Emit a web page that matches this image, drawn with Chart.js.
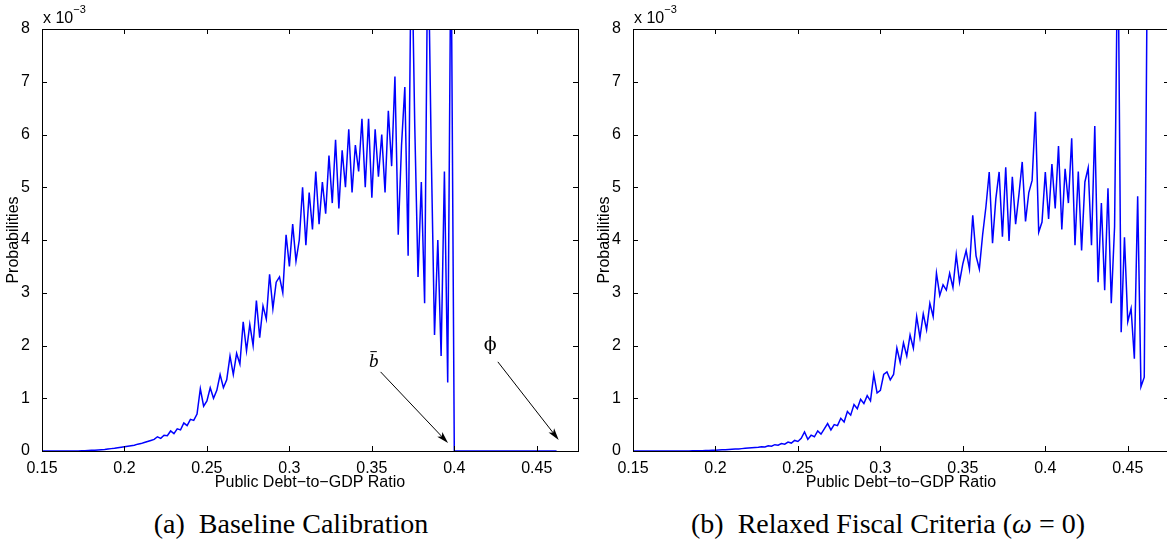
<!DOCTYPE html>
<html>
<head>
<meta charset="utf-8">
<title>Debt-to-GDP distributions</title>
<script src="https://cdn.jsdelivr.net/npm/chart.js@4.4.1/dist/chart.umd.min.js"></script>
<style>
  body { margin: 0; background: #fff; width: 1167px; height: 544px; overflow: hidden; position: relative; }
  .panel { position: absolute; top: 0; width: 590px; height: 500px; }
  .caption { position: absolute; top: 510px; width: 582px; text-align: center; color: #000;
             font: 28px "Liberation Serif", "Times New Roman", serif; line-height: 28px; white-space: nowrap; }
</style>
</head>
<body>
<div class="panel" style="left:0"><canvas id="baselineChart"></canvas></div>
<div class="panel" style="left:591px"><canvas id="relaxedChart"></canvas></div>
<div class="caption" style="left:0">(a)&nbsp; Baseline Calibration</div>
<div class="caption" style="left:597px">(b)&nbsp; Relaxed Fiscal Criteria (<i>ω</i> = 0)</div>
<script>
// debt-to-GDP grid: 0.150, 0.152, ... 0.462
const gridStart = 0.150;
const gridStep = 0.002;

const xTicks = [0.15, 0.2, 0.25, 0.3, 0.35, 0.4, 0.45];
const xTickLabels = ['0.15', '0.2', '0.25', '0.3', '0.35', '0.4', '0.45'];
const yTicks = [0, 1, 2, 3, 4, 5, 6, 7, 8];

// probabilities, in units of 10^-3 (values above 8 run off the top of the plot)
const baselineProb = [
  0, 0, 0, 0, 0, 0, 0, 0, 0, 0,                                   // 0.150
  0, 0.002, 0.004, 0.006, 0.009, 0.012, 0.016, 0.02, 0.025, 0.03,  // 0.170
  0.037, 0.045, 0.05, 0.06, 0.07, 0.08, 0.09, 0.1, 0.11, 0.13,     // 0.190
  0.14, 0.16, 0.18, 0.2, 0.22, 0.27, 0.24, 0.3, 0.29, 0.38,        // 0.210
  0.33, 0.42, 0.4, 0.53, 0.48, 0.6, 0.58, 0.7, 1.18, 0.85,         // 0.230
  0.95, 1.2, 1.0, 1.15, 1.45, 1.2, 1.35, 1.8, 1.45, 1.85,          // 0.250
  1.65, 2.45, 1.9, 2.4, 2.0, 2.85, 2.15, 2.75, 2.5, 3.35,          // 0.270
  2.7, 3.2, 3.3, 3.0, 4.1, 3.5, 4.3, 3.6, 4.0, 5.0,                // 0.290
  3.9, 4.9, 4.2, 5.3, 4.3, 5.1, 4.5, 5.6, 4.7, 5.9,                // 0.310
  4.6, 5.7, 5.0, 6.1, 4.9, 5.8, 5.3, 6.3, 5.0, 6.3,                // 0.330
  4.8, 6.1, 5.2, 6.0, 4.9, 6.45, 5.4, 7.1, 4.1, 5.8,               // 0.350
  6.9, 3.7, 10, 6.2, 3.3, 5.1, 2.8, 10, 5.7, 2.2,                  // 0.370
  4.0, 1.8, 5.3, 1.3, 10, 0, 0, 0, 0, 0,                           // 0.390
  0, 0, 0, 0, 0, 0, 0, 0, 0, 0,                                    // 0.410
  0, 0, 0, 0, 0, 0, 0, 0, 0, 0,                                    // 0.430
  0, 0, 0, 0, 0, 0, 0                                              // 0.450
];

const relaxedProb = [
  0, 0, 0, 0, 0, 0, 0, 0, 0, 0,                                   // 0.150
  0, 0, 0, 0, 0, 0, 0.001, 0.002, 0.003, 0.004,                    // 0.170
  0.005, 0.007, 0.009, 0.011, 0.013, 0.016, 0.019, 0.022, 0.025, 0.029, // 0.190
  0.033, 0.037, 0.04, 0.045, 0.05, 0.055, 0.06, 0.065, 0.07, 0.08, // 0.210
  0.075, 0.1, 0.09, 0.12, 0.11, 0.14, 0.13, 0.17, 0.15, 0.2,       // 0.230
  0.18, 0.24, 0.36, 0.22, 0.3, 0.27, 0.38, 0.32, 0.42, 0.52,       // 0.250
  0.4, 0.5, 0.48, 0.62, 0.55, 0.75, 0.68, 0.88, 0.8, 0.98,         // 0.270
  0.9, 1.05, 0.95, 1.45, 1.1, 1.15, 1.45, 1.5, 1.35, 1.45,         // 0.290
  1.95, 1.68, 2.05, 1.8, 2.2, 1.95, 2.55, 2.15, 2.6, 2.3,          // 0.310
  2.8, 2.55, 3.37, 2.95, 3.15, 3.05, 3.37, 3.1, 3.72, 3.2,         // 0.330
  3.55, 3.8, 3.45, 4.47, 3.7, 3.45, 4.1, 4.63, 5.29, 3.94,         // 0.350
  4.78, 5.29, 4.06, 5.38, 3.98, 5.2, 4.3, 4.86, 5.48, 4.35,        // 0.370
  4.9, 5.13, 6.43, 4.15, 4.34, 5.29, 4.4, 5.44, 4.6, 5.78,         // 0.390
  4.2, 5.35, 4.7, 5.93, 3.9, 5.3, 3.8, 5.1, 5.37, 3.9,             // 0.410
  6.16, 3.2, 4.7, 3.05, 4.98, 2.8, 4.25, 10, 2.25, 4.05,           // 0.430
  2.45, 2.7, 1.75, 4.83, 1.22, 1.4, 10                             // 0.450
];

const tickFont = { family: '"Liberation Sans", Arial, sans-serif', size: 16 };

function toPoints(values) {
  return values.map((v, i) => ({ x: gridStart + i * gridStep, y: v }));
}

function drawArrow(ctx, x1, y1, x2, y2) {
  const a = Math.atan2(y2 - y1, x2 - x1);
  const c = Math.cos(a), s = Math.sin(a);
  ctx.beginPath();
  ctx.moveTo(x1, y1);
  ctx.lineTo(x2 - 6 * c, y2 - 6 * s);
  ctx.stroke();
  ctx.beginPath();
  ctx.moveTo(x2, y2);
  ctx.lineTo(x2 - 12 * c + 3.5 * s, y2 - 12 * s - 3.5 * c);
  ctx.lineTo(x2 - 9 * c, y2 - 9 * s);
  ctx.lineTo(x2 - 12 * c - 3.5 * s, y2 - 12 * s + 3.5 * c);
  ctx.closePath();
  ctx.fill();
}

// MATLAB-style box: frame, inward ticks on all sides, axis titles, exponent
const matlabBox = {
  id: 'matlabBox',
  afterDraw(chart) {
    const { ctx, chartArea: a, scales } = chart;
    ctx.save();
    ctx.strokeStyle = '#000';
    ctx.fillStyle = '#000';
    ctx.lineWidth = 1;
    ctx.beginPath();
    xTicks.forEach(v => {
      const px = Math.round(scales.x.getPixelForValue(v)) + 0.5;
      ctx.moveTo(px, a.bottom); ctx.lineTo(px, a.bottom - 5);
      ctx.moveTo(px, a.top); ctx.lineTo(px, a.top + 5);
    });
    yTicks.forEach(v => {
      const py = Math.round(scales.y.getPixelForValue(v)) + 0.5;
      ctx.moveTo(a.left, py); ctx.lineTo(a.left + 5, py);
      ctx.moveTo(a.right, py); ctx.lineTo(a.right - 5, py);
    });
    ctx.stroke();
    ctx.strokeRect(Math.round(a.left) + 0.5, Math.round(a.top) + 0.5,
                   Math.round(a.right - a.left), Math.round(a.bottom - a.top));

    ctx.font = '16px "Liberation Sans", Arial, sans-serif';
    ctx.textAlign = 'center';
    ctx.textBaseline = 'middle';
    ctx.fillText('Public Debt\u2212to\u2212GDP Ratio', (a.left + a.right) / 2, a.bottom + 32);

    ctx.save();
    ctx.translate(14, (a.top + a.bottom) / 2);
    ctx.rotate(-Math.PI / 2);
    ctx.font = '16px "Liberation Sans", Arial, sans-serif';
    ctx.fillText('Probabilities', 0, 0);
    ctx.restore();

    ctx.textAlign = 'left';
    ctx.textBaseline = 'alphabetic';
    ctx.font = '16px "Liberation Sans", Arial, sans-serif';
    ctx.fillText('x 10', a.left + 1, a.top - 6);
    const w = ctx.measureText('x 10').width;
    ctx.font = '11px "Liberation Sans", Arial, sans-serif';
    ctx.fillText('\u22123', a.left + 1 + w, a.top - 16);
    ctx.restore();
  }
};

// b-bar and phi labels with arrows on the baseline panel
const baselineNotes = {
  id: 'baselineNotes',
  afterDraw(chart) {
    const { ctx, scales } = chart;
    const X = v => scales.x.getPixelForValue(v);
    const Y = v => scales.y.getPixelForValue(v);
    ctx.save();
    ctx.strokeStyle = '#000';
    ctx.fillStyle = '#000';
    ctx.lineWidth = 1;

    ctx.font = 'italic 19px "Liberation Serif", serif';
    ctx.textAlign = 'center';
    ctx.textBaseline = 'alphabetic';
    const bx = X(0.3512), by = Y(1.59);
    ctx.fillText('b', bx, by);
    ctx.beginPath();
    ctx.moveTo(bx - 3.5, by - 15.5); ctx.lineTo(bx + 3, by - 15.5);
    ctx.stroke();
    drawArrow(ctx, X(0.3553), Y(1.50), X(0.3962), Y(0.15));

    ctx.font = '19px "DejaVu Serif", "Liberation Serif", serif';
    ctx.textBaseline = 'middle';
    ctx.fillText('\u03D5', X(0.4218), Y(2.0));
    drawArrow(ctx, X(0.4264), Y(1.69), X(0.4633), Y(0.21));
    ctx.restore();
  }
};

function makeChart(id, values, extra) {
  return new Chart(document.getElementById(id), {
    type: 'line',
    data: {
      datasets: [{
        data: toPoints(values),
        borderColor: '#0000ff',
        borderWidth: 1.5,
        pointRadius: 0,
        tension: 0,
        fill: false
      }]
    },
    options: {
      responsive: true,
      maintainAspectRatio: false,
      animation: false,
      layout: { padding: { top: 29, right: 12, left: 0, bottom: 0 } },
      plugins: { legend: { display: false }, tooltip: { enabled: false } },
      scales: {
        x: {
          type: 'linear',
          min: 0.15,
          max: 0.475,
          grid: { display: false },
          border: { display: false },
          afterBuildTicks: s => { s.ticks = xTicks.map(v => ({ value: v })); },
          afterFit: s => { s.height = 49; },
          ticks: { maxRotation: 0, autoSkip: false, padding: 0, color: '#000', font: tickFont,
                   callback: (v, i) => xTickLabels[i] }
        },
        y: {
          min: 0,
          max: 8,
          grid: { display: false },
          border: { display: false },
          afterBuildTicks: s => { s.ticks = yTicks.map(v => ({ value: v })); },
          afterFit: s => { s.width = 42; },
          ticks: { padding: 4, color: '#000', font: tickFont }
        }
      }
    },
    plugins: [matlabBox].concat(extra)
  });
}

makeChart('baselineChart', baselineProb, [baselineNotes]);
makeChart('relaxedChart', relaxedProb, []);
</script>
</body>
</html>
